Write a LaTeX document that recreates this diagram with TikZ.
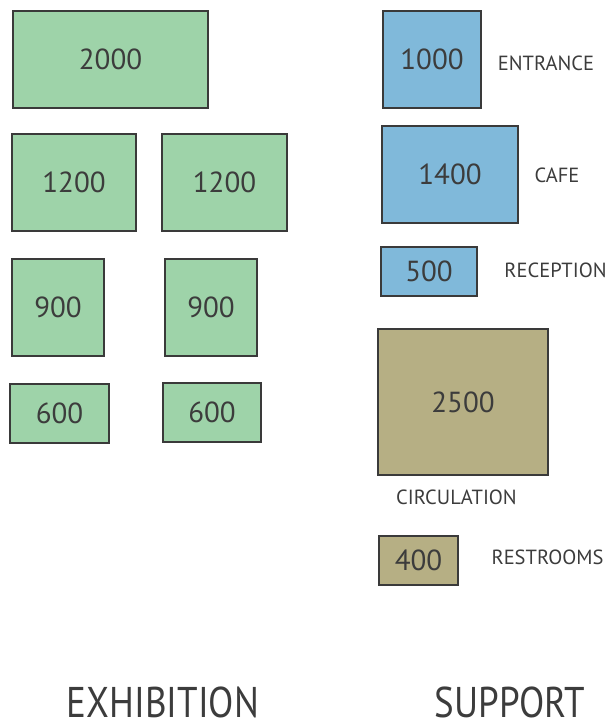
\documentclass[tikz,border=0pt]{standalone}
\usepackage{graphicx}
\usepackage{fontspec}
\setmainfont{PT Sans}
\definecolor{exgreen}{HTML}{9ED3A9}
\definecolor{supblue}{HTML}{80B9DA}
\definecolor{circkhaki}{HTML}{B6AF84}
\definecolor{edgegray}{HTML}{3A3A3A}
\definecolor{txtgray}{HTML}{3C3C3C}
\tikzset{
  room/.style={draw=edgegray, line width=2pt, inner sep=0pt, text=txtgray,
    font=\fontsize{29}{30}\selectfont},
  gbox/.style={room, fill=exgreen},
  bbox/.style={room, fill=supblue},
  kbox/.style={room, fill=circkhaki},
  lbl/.style={text=txtgray, inner sep=0pt, font=\fontsize{20.5}{22}\selectfont},
  big/.style={text=txtgray, inner sep=0pt, anchor=base, text depth=0pt,
    font=\fontsize{43}{46}\selectfont},
}
\begin{document}
\begin{tikzpicture}[x=1pt,y=-1pt]
\useasboundingbox (0,0) rectangle (608,721);
% exhibition
\node[gbox, minimum width=195pt, minimum height=97pt] (e2000) at (110.5,59.5) {2000};
\node[gbox, minimum width=124pt, minimum height=97pt] (e1200a) at (74,182.5) {1200};
\node[gbox, minimum width=125pt, minimum height=97pt] (e1200b) at (224.5,182.5) {1200};
\node[gbox, minimum width=92pt, minimum height=97pt] (e900a) at (58,307.5) {900};
\node[gbox, minimum width=92pt, minimum height=97pt] (e900b) at (211,307.5) {900};
\node[gbox, minimum width=99pt, minimum height=59pt] (e600a) at (59.5,413.5) {600};
\node[gbox, minimum width=98pt, minimum height=59pt] (e600b) at (212,412.5) {600};
% support
\node[bbox, minimum width=98pt, minimum height=97pt] (s1000) at (432,59.5) {1000};
\node[bbox, minimum width=136pt, minimum height=97pt] (s1400) at (450,174.5) {1400};
\node[bbox, minimum width=96pt, minimum height=49pt] (s500) at (429,271.5) {500};
\node[kbox, minimum width=170pt, minimum height=146pt] (s2500) at (463,402) {2500};
\node[kbox, minimum width=79pt, minimum height=49pt] (s400) at (418.5,560.5) {400};
% labels
\node[lbl] (lentr) at (546,63) {ENTRANCE};
\node[lbl] (lcafe) at (557,175) {CAFE};
\node[lbl] (lrec) at (555.5,270) {RECEPTION};
\node[lbl] (lcirc) at (456.5,497) {CIRCULATION};
\node[lbl] (lrest) at (547.5,557) {RESTROOMS};
\node[big] (lexh) at (163,717) {\scalebox{0.86}[1]{EXHIBITION}};
\node[big] (lsup) at (510,717) {\scalebox{0.86}[1]{SUPPORT}};
\end{tikzpicture}
\end{document}
